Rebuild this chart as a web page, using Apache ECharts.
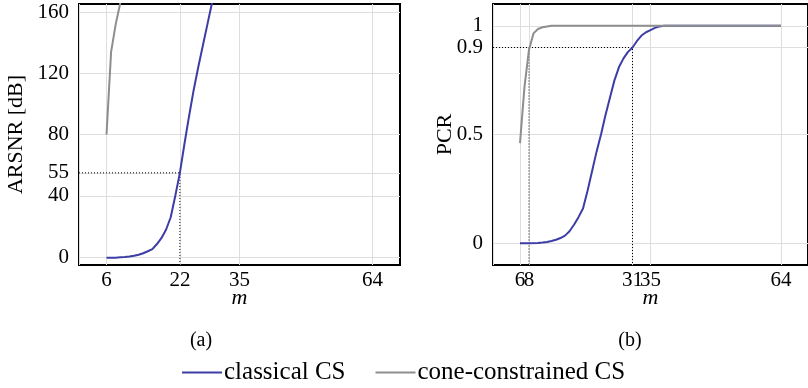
<!DOCTYPE html>
<html>
<head>
<meta charset="utf-8">
<script src="https://cdn.jsdelivr.net/npm/echarts@6/dist/echarts.min.js"></script>
<style>
html, body { margin: 0; padding: 0; background: #fff; }
#chart { width: 808px; height: 388px; }
</style>
</head>
<body>
<div id="chart"></div>
<script>
// (a) ARSNR [dB] over m
const mClassicalA = [6, 7, 8, 9, 10, 11, 12, 13, 14, 15, 16, 17, 18, 19, 20, 21, 22, 23, 24, 25, 26, 27, 28, 29, 30];
const snrClassical = [-0.5, -0.5, -0.4, -0.2, 0, 0.3, 0.8, 1.5, 2.5, 3.8, 5.2, 8.5, 12.5, 18, 26, 40, 55, 74, 92, 109, 124, 138, 152, 166, 180];
const mConeA = [6, 7, 8, 9];
const snrCone = [80, 134, 152, 166];

// (b) PCR over m
const mClassicalB = [6, 8, 10, 11, 12, 13, 14, 15, 16, 17, 18, 19, 20, 21, 22, 23, 24, 25, 26, 27, 28, 29, 30, 31, 32, 33, 34, 35, 36, 37, 38, 40, 45, 50, 55, 60, 64];
const pcrClassical = [0, 0, 0.001, 0.003, 0.006, 0.01, 0.016, 0.024, 0.035, 0.055, 0.085, 0.12, 0.16, 0.24, 0.33, 0.42, 0.5, 0.59, 0.67, 0.75, 0.81, 0.85, 0.88, 0.9, 0.93, 0.955, 0.97, 0.98, 0.99, 0.997, 1, 1, 1, 1, 1, 1, 1];
const mConeB = [6, 7, 8, 9, 10, 11, 12, 13, 20, 30, 40, 50, 64];
const pcrCone = [0.46, 0.72, 0.89, 0.965, 0.985, 0.993, 0.997, 1, 1, 1, 1, 1, 1];

// tick labels
const xTicksA = [6, 22, 35, 64];
const yTicksA = [0, 40, 55, 80, 120, 160];
const xTicksB = [6, 8, 31, 35, 64];
const yTicksB = [0, 0.5, 0.9, 1];

// dotted guides
const guideA = { m: 22, level: 55 };
const guideB = { mCone: 8, mClassical: 31, level: 0.9 };

const xRange = [0, 70];
const yRangeA = [-5.2, 165.3];
const yRangeB = [-0.1, 1.1];

const FONT = '"Liberation Serif", "Times New Roman", serif';
const BLUE = '#3d3da6';
const GRAY = '#8e8e8e';

const pairs = (xs, ys) => xs.map((x, i) => [x, ys[i]]);

const myChart = echarts.init(document.getElementById('chart'));

// a blank label at the axis start keeps echarts from dropping the crowded "6"/"8" pair
const xAxisBase = (idx, ticks) => ({
    type: 'value',
    gridIndex: idx,
    min: xRange[0],
    max: xRange[1],
    name: 'm',
    nameLocation: 'middle',
    nameGap: 22,
    nameMoveOverlap: false,
    nameTextStyle: { fontFamily: FONT, fontSize: 22, fontStyle: 'italic', color: '#000' },
    axisLine: { show: false },
    axisTick: { show: false, customValues: [xRange[0]].concat(ticks) },
    axisLabel: {
        customValues: [xRange[0]].concat(ticks),
        formatter: v => (ticks.indexOf(v) >= 0 ? String(v) : ''),
        hideOverlap: false,
        fontFamily: FONT, fontSize: 21, color: '#000', margin: 5
    },
    splitLine: { show: true, lineStyle: { color: '#dedede', width: 1 } }
});

const yAxisBase = (idx, ticks, range, name, gap) => ({
    type: 'value',
    gridIndex: idx,
    min: range[0],
    max: range[1],
    name: name,
    nameLocation: 'middle',
    nameRotate: 90,
    nameGap: gap,
    nameMoveOverlap: false,
    nameTextStyle: { fontFamily: FONT, fontSize: 22, color: '#000' },
    axisLine: { show: false },
    axisTick: { show: false, customValues: ticks },
    axisLabel: {
        customValues: ticks, hideOverlap: false, showMinLabel: true, showMaxLabel: true,
        fontFamily: FONT, fontSize: 21, color: '#000', margin: 10
    },
    splitLine: { show: true, lineStyle: { color: '#dedede', width: 1 } }
});

const lineSeries = (name, idx, data, color) => ({
    name: name,
    type: 'line',
    xAxisIndex: idx,
    yAxisIndex: idx,
    data: data,
    showSymbol: false,
    symbol: 'none',
    clip: true,
    color: color,
    lineStyle: { color: color, width: 2 },
    z: 3
});

const dotted = (idx, data) => ({
    type: 'line',
    xAxisIndex: idx,
    yAxisIndex: idx,
    data: data,
    symbol: 'none',
    silent: true,
    lineStyle: { color: '#000', width: 1, type: [1, 2] },
    z: 2
});

const option = {
    animation: false,
    textStyle: { fontFamily: FONT },
    grid: [
        { left: 79, top: 4, width: 321, height: 261, show: true, borderColor: '#000', borderWidth: 2, backgroundColor: 'transparent' },
        { left: 493, top: 4, width: 321, height: 261, show: true, borderColor: '#000', borderWidth: 2, backgroundColor: 'transparent' }
    ],
    xAxis: [xAxisBase(0, xTicksA), xAxisBase(1, xTicksB)],
    yAxis: [
        yAxisBase(0, yTicksA, yRangeA, 'ARSNR [dB]', 52),
        yAxisBase(1, yTicksB, yRangeB, 'PCR', 37)
    ],
    legend: {
        data: ['classical CS', 'cone-constrained CS'],
        left: 177,
        top: 355,
        icon: 'rect',
        itemWidth: 40,
        itemHeight: 2,
        itemGap: 30,
        selectedMode: false,
        textStyle: { fontFamily: FONT, fontSize: 25, color: '#000', padding: [0, 0, 0, -3] }
    },
    graphic: [
        { type: 'text', x: 201, y: 341, style: { text: '(a)', font: '20px ' + FONT, fill: '#000', align: 'center', verticalAlign: 'middle' } },
        { type: 'text', x: 630, y: 341, style: { text: '(b)', font: '20px ' + FONT, fill: '#000', align: 'center', verticalAlign: 'middle' } }
    ],
    series: [
        dotted(0, [[xRange[0], guideA.level], [guideA.m, guideA.level], [guideA.m, yRangeA[0]]]),
        dotted(1, [[xRange[0], guideB.level], [guideB.mClassical, guideB.level], [guideB.mClassical, yRangeB[0]]]),
        dotted(1, [[guideB.mCone, guideB.level], [guideB.mCone, yRangeB[0]]]),
        lineSeries('classical CS', 0, pairs(mClassicalA, snrClassical), BLUE),
        lineSeries('cone-constrained CS', 0, pairs(mConeA, snrCone), GRAY),
        lineSeries('classical CS', 1, pairs(mClassicalB, pcrClassical), BLUE),
        lineSeries('cone-constrained CS', 1, pairs(mConeB, pcrCone), GRAY)
    ]
};

myChart.setOption(option);
</script>
</body>
</html>
